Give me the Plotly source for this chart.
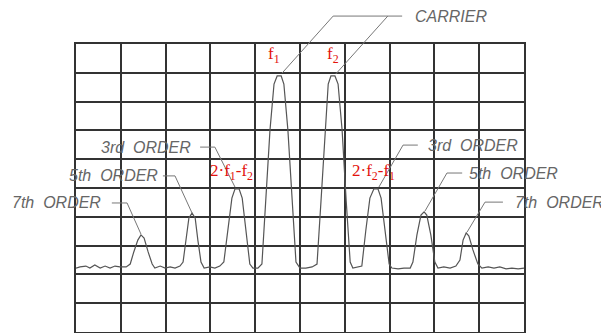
import plotly.graph_objects as go

# Spectrum trace, in screen divisions (x: 0-10 horizontal divisions, y: 0-10 vertical divisions)
trace_x = [0, 0.09, 0.22, 0.31, 0.42, 0.54, 0.65, 0.76, 0.87, 0.98, 1.12, 1.21, 1.29, 1.38, 1.45, 1.52,
           1.61, 1.70, 1.76, 1.88, 1.99, 2.10, 2.21, 2.32, 2.39, 2.46, 2.52, 2.59, 2.66, 2.72, 2.79,
           2.86, 2.99, 3.10, 3.21, 3.30, 3.39, 3.48, 3.55, 3.64, 3.71, 3.79, 3.88, 3.95, 4.06, 4.15,
           4.24, 4.33, 4.42, 4.49, 4.58, 4.64, 4.73, 4.82, 4.91, 5.00, 5.13, 5.27, 5.38, 5.47, 5.56,
           5.63, 5.69, 5.78, 5.85, 5.94, 6.03, 6.12, 6.18, 6.29, 6.38, 6.47, 6.56, 6.65, 6.74, 6.81,
           6.90, 6.99, 7.05, 7.19, 7.32, 7.46, 7.52, 7.61, 7.70, 7.77, 7.83, 7.92, 8.01, 8.08, 8.21,
           8.35, 8.48, 8.57, 8.64, 8.71, 8.77, 8.86, 8.97, 9.06, 9.20, 9.33, 9.46, 9.60, 9.73, 9.87, 10.0]
trace_y = [2.22, 2.26, 2.29, 2.22, 2.33, 2.22, 2.29, 2.22, 2.29, 2.26, 2.26, 2.36, 2.78, 3.19, 3.37, 3.26,
           2.78, 2.36, 2.22, 2.29, 2.22, 2.26, 2.22, 2.29, 2.43, 3.19, 3.96, 4.13, 3.96, 3.19, 2.43,
           2.22, 2.26, 2.22, 2.29, 2.43, 3.54, 4.65, 4.97, 4.97, 4.65, 3.54, 2.36, 2.22, 2.22, 2.36,
           4.58, 7.01, 8.61, 8.89, 8.89, 8.61, 7.01, 4.58, 2.43, 2.22, 2.22, 2.26, 2.36, 4.58, 7.01,
           8.61, 8.89, 8.89, 8.61, 7.01, 4.58, 2.43, 2.22, 2.26, 2.29, 3.54, 4.65, 4.97, 4.97, 4.65,
           3.54, 2.36, 2.22, 2.19, 2.22, 2.22, 2.43, 3.37, 4.06, 4.17, 4.06, 3.37, 2.43, 2.22, 2.26,
           2.22, 2.29, 2.50, 3.19, 3.44, 3.33, 2.85, 2.36, 2.22, 2.26, 2.22, 2.26, 2.19, 2.22, 2.19, 2.22]

# Callout labels (gray technical text)
callout_texts = ["CARRIER", "3rd  ORDER", "5th  ORDER", "7th  ORDER", "3rd  ORDER", "5th  ORDER", "7th  ORDER"]
callout_pos = [(7.52, 10.94, "left"), (2.61, 6.42, "right"), (1.875, 5.42, "right"), (0.60, 4.48, "right"),
               (7.81, 6.49, "left"), (8.73, 5.52, "left"), (9.75, 4.51, "left")]
# Leader lines (division units)
leaders = [
    [(4.60, 8.99), (5.74, 10.97), (7.28, 10.97)],
    [(5.80, 8.96), (6.96, 10.97)],
    [(2.77, 6.42), (3.10, 6.42), (3.55, 5.03)],
    [(1.94, 5.42), (2.21, 5.42), (2.59, 4.13)],
    [(0.80, 4.48), (1.14, 4.48), (1.45, 3.40)],
    [(7.63, 6.49), (7.30, 6.49), (6.76, 5.03)],
    [(8.62, 5.52), (8.28, 5.52), (7.79, 4.20)],
    [(9.53, 4.51), (9.13, 4.51), (8.73, 3.47)],
]
# Red frequency labels
red_texts = ["f<sub>1</sub>", "f<sub>2</sub>", "2·f<sub>1</sub>-f<sub>2</sub>", "2·f<sub>2</sub>-f<sub>1</sub>"]
red_pos = [(4.42, 9.62), (5.74, 9.62), (3.48, 5.56), (6.63, 5.56)]

GRID = "#333333"
GRAY = "#666666"

fig = go.Figure()
fig.add_trace(go.Scatter(x=trace_x, y=trace_y, mode="lines",
                         line=dict(color="#555555", width=1.2), hoverinfo="skip", showlegend=False))

def to_paper(v):
    return v / 10.0

shapes = []
for pts in leaders:
    path = "M " + " L ".join(f"{to_paper(x)},{to_paper(y)}" for x, y in pts)
    shapes.append(dict(type="path", xref="paper", yref="paper", path=path,
                       line=dict(color="#777777", width=1)))

annotations = []
for t, (x, y, anc) in zip(callout_texts, callout_pos):
    annotations.append(dict(text=t, x=to_paper(x), y=to_paper(y), xref="paper", yref="paper",
                            xanchor=anc, yanchor="middle", showarrow=False,
                            font=dict(family="Liberation Sans", size=16, color=GRAY, style="italic")))
for t, (x, y) in zip(red_texts, red_pos):
    annotations.append(dict(text=t, x=to_paper(x), y=to_paper(y), xref="paper", yref="paper",
                            xanchor="center", yanchor="middle", showarrow=False,
                            font=dict(family="Liberation Serif", size=17, color="#e3120b")))

fig.update_layout(
    width=601, height=333,
    margin=dict(l=76, r=77, t=44, b=1),
    paper_bgcolor="white", plot_bgcolor="white",
    shapes=shapes, annotations=annotations,
    xaxis=dict(range=[0, 10], dtick=1, showgrid=True, gridcolor=GRID, gridwidth=1.5,
               showticklabels=False, ticks="", zeroline=False, showline=True, mirror=True,
               linecolor=GRID, linewidth=1.5, fixedrange=True),
    yaxis=dict(range=[0, 10], dtick=1, showgrid=True, gridcolor=GRID, gridwidth=1.5,
               showticklabels=False, ticks="", zeroline=False, showline=True, mirror=True,
               linecolor=GRID, linewidth=1.5, fixedrange=True),
)

fig.write_html("out.html", config={"displayModeBar": False})
